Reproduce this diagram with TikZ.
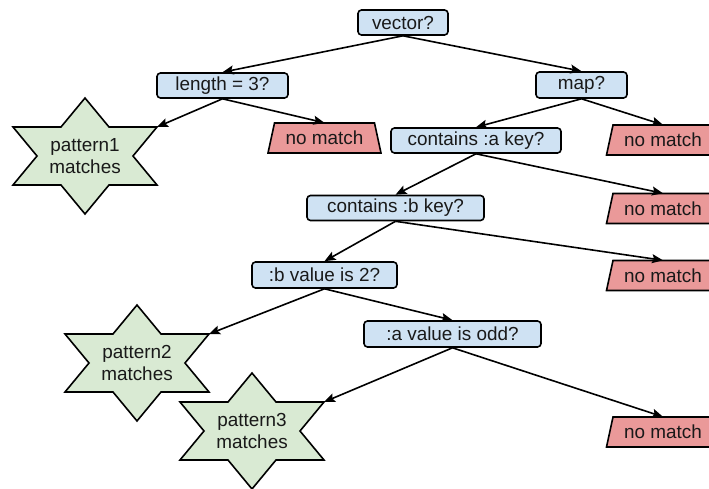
\documentclass[tikz,border=0pt]{standalone}
\usepackage{fontspec}
\setmainfont{Liberation Sans}
\usetikzlibrary{arrows.meta}
\definecolor{qblue}{HTML}{CFE2F3}
\definecolor{pgreen}{HTML}{D9EAD3}
\definecolor{nred}{HTML}{EA9999}
\tikzset{
  every node/.style={font=\fontsize{18.9}{22}\selectfont, text=black!90},
  qbox/.style={rectangle, rounded corners=3.5pt, draw=black, fill=qblue, line width=1.6pt, inner sep=0pt, minimum height=25pt},
  shapeline/.style={draw=black, line width=1.6pt, line join=miter},
  plain/.style={inner sep=0pt, align=center},
  arr/.style={line width=1.6pt, -{Stealth[length=11pt, width=9pt, inset=2pt]}},
}
\newcommand\hexstar[4]{%
  \draw[shapeline, fill=pgreen] (#2,#3-58) -- (#2+24,#3-29) -- (#2+72,#3-29) -- (#2+48,#3) -- (#2+72,#3+29) -- (#2+24,#3+29) -- (#2,#3+58) -- (#2-24,#3+29) -- (#2-72,#3+29) -- (#2-48,#3) -- (#2-72,#3-29) -- (#2-24,#3-29) -- cycle;
  \node[plain] (#1) at (#2,#3) {#4};
  \coordinate (#1ur) at (#2+72,#3-29);
}
\newcommand\nomatchbox[3]{%
  \draw[shapeline, fill=nred] (#2-50,#3-15) -- (#2+50,#3-15) -- (#2+56.5,#3+15) -- (#2-56.5,#3+15) -- cycle;
  \node[plain, minimum width=100pt, minimum height=30pt] (#1) at (#2,#3) {no match};
}
\begin{document}
\begin{tikzpicture}[x=1pt, y=-1pt]
\useasboundingbox (0,0) rectangle (709,489);

% decision boxes
\node[qbox, minimum width=90pt] (vec) at (403,22.5) {vector?};
\node[qbox, minimum width=131pt] (len) at (222.5,85.5) {length = 3?};
\node[qbox, minimum width=91pt, minimum height=26pt] (map) at (581.5,85) {map?};
\node[qbox, minimum width=170pt] (ca) at (476,140.5) {contains :a key?};
\node[qbox, minimum width=177pt] (cb) at (395.5,208) {contains :b key?};
\node[qbox, minimum width=145pt, minimum height=26pt] (bv) at (324.5,275) {:b value is 2?};
\node[qbox, minimum width=177pt, minimum height=26pt] (av) at (452.5,334) {:a value is odd?};

% results
\hexstar{p1}{85}{156}{pattern1\\matches}
\hexstar{p2}{137}{363}{pattern2\\matches}
\hexstar{p3}{252}{431}{pattern3\\matches}

\nomatchbox{n0}{324.5}{138}
\nomatchbox{n1}{663}{140}
\nomatchbox{n2}{663}{208.5}
\nomatchbox{n3}{663}{275.5}
\nomatchbox{n4}{663}{432}

% connectors
\draw[arr] (vec.south) -- (len.north);
\draw[arr] (vec.south) -- (map.north);
\draw[arr] (len.south) -- (p1ur);
\draw[arr] (len.south) -- (n0.north);
\draw[arr] (map.south) -- (ca.north);
\draw[arr] (map.south) -- (n1.north);
\draw[arr] (ca.south) -- (cb.north);
\draw[arr] (ca.south) -- (n2.north);
\draw[arr] (cb.south) -- (bv.north);
\draw[arr] (cb.south) -- (n3.north);
\draw[arr] (bv.south) -- (p2ur);
\draw[arr] (bv.south) -- (av.north);
\draw[arr] (av.south) -- (p3ur);
\draw[arr] (av.south) -- (n4.north);
\end{tikzpicture}
\end{document}
